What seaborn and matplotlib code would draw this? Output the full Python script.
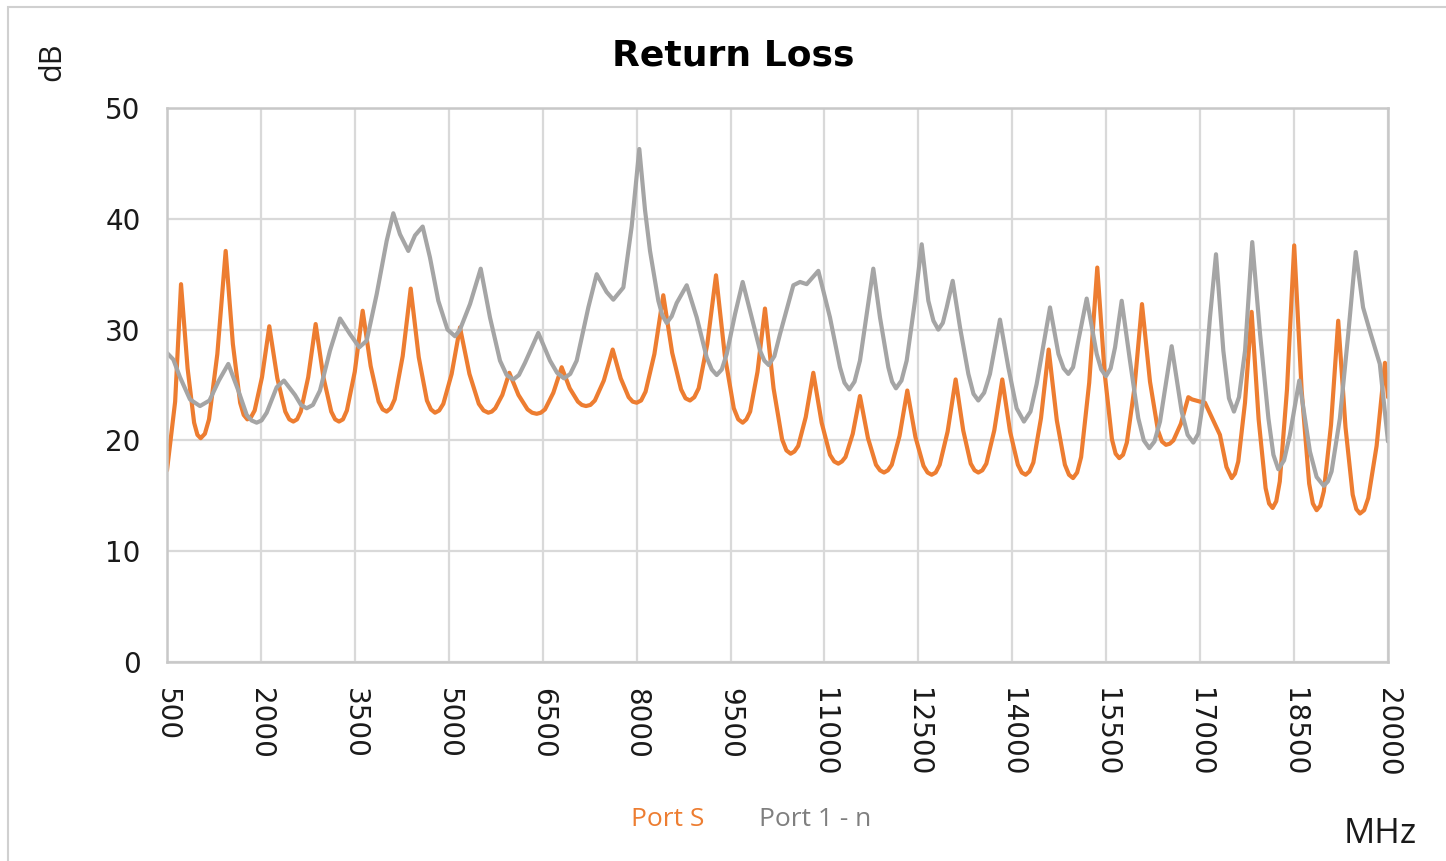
import matplotlib
matplotlib.use("Agg")
import matplotlib.pyplot as plt
import seaborn as sns
import pandas as pd
from matplotlib.patches import Rectangle

# ---------------- data ----------------
port_s_freq = [500, 630, 724, 829, 933, 986, 1038, 1105, 1171, 1304, 1437, 1552, 1668, 1725, 1783,
               1842, 1900, 2017, 2134, 2262, 2389, 2453, 2517, 2577, 2636, 2755, 2874, 2998, 3123,
               3185, 3247, 3310, 3373, 3499, 3625, 3753, 3880, 3944, 4008, 4072, 4136, 4264, 4392,
               4521, 4651, 4715, 4780, 4847, 4913, 5046, 5179, 5330, 5480, 5556, 5631, 5687, 5743,
               5855, 5967, 6113, 6258, 6331, 6404, 6470, 6537, 6670, 6803, 6932, 7062, 7126, 7191,
               7262, 7333, 7476, 7618, 7746, 7873, 7937, 8001, 8072, 8143, 8284, 8426, 8568, 8710,
               8781, 8852, 8921, 8991, 9129, 9268, 9410, 9552, 9623, 9694, 9753, 9813, 9931, 10050,
               10187, 10323, 10392, 10460, 10520, 10581, 10701, 10822, 10955, 11088, 11155, 11221,
               11279, 11336, 11452, 11567, 11695, 11823, 11887, 11951, 12013, 12075, 12199, 12323,
               12453, 12582, 12647, 12712, 12776, 12840, 12967, 13095, 13216, 13336, 13397, 13457,
               13521, 13585, 13712, 13840, 13964, 14089, 14151, 14213, 14274, 14336, 14458, 14581,
               14711, 14840, 14905, 14970, 15035, 15099, 15228, 15357, 15474, 15591, 15650, 15708,
               15768, 15829, 15950, 16071, 16199, 16326, 16390, 16454, 16514, 16573, 16692, 16811,
               16870, 16997, 17077, 17316, 17420, 17503, 17556, 17609, 17716, 17822, 17934, 18045,
               18101, 18157, 18215, 18272, 18387, 18502, 18621, 18741, 18800, 18860, 18918, 18975,
               19090, 19205, 19321, 19436, 19494, 19552, 19619, 19685, 19818, 19951, 20000]
port_s_db = [17.3, 23.5, 34.1, 26.5, 21.6, 20.5, 20.2, 20.6, 21.9, 27.8, 37.1, 28.7, 23.4, 22.3, 21.9,
             22.1, 22.7, 25.7, 30.3, 25.6, 22.6, 21.9, 21.7, 21.9, 22.6, 25.7, 30.5, 25.7, 22.6,
             21.9, 21.7, 21.9, 22.7, 26.2, 31.7, 26.7, 23.5, 22.8, 22.6, 22.9, 23.7, 27.6, 33.7,
             27.5, 23.6, 22.8, 22.5, 22.7, 23.3, 26.0, 30.2, 26.0, 23.3, 22.7, 22.5, 22.6, 22.9,
             24.1, 26.1, 24.1, 22.8, 22.5, 22.4, 22.5, 22.8, 24.3, 26.6, 24.7, 23.5, 23.2, 23.1,
             23.2, 23.6, 25.4, 28.2, 25.6, 23.9, 23.5, 23.4, 23.6, 24.4, 27.8, 33.1, 27.9, 24.6,
             23.8, 23.6, 23.9, 24.7, 28.7, 34.9, 27.6, 22.9, 21.9, 21.6, 21.9, 22.6, 26.2, 31.9,
             24.7, 20.1, 19.1, 18.8, 19.0, 19.5, 22.1, 26.1, 21.6, 18.7, 18.1, 17.9,
             18.1, 18.5, 20.6, 24.0, 20.2, 17.8, 17.3, 17.1, 17.3, 17.8, 20.4, 24.5,
             20.3, 17.7, 17.1, 16.9, 17.1, 17.8, 20.8, 25.5, 20.9, 17.9, 17.3, 17.1,
             17.3, 17.9, 20.9, 25.5, 20.8, 17.8, 17.1, 16.9, 17.2, 18.0, 22.0, 28.2,
             21.8, 17.8, 16.9, 16.6, 17.1, 18.5, 25.2, 35.6, 26.1, 20.1, 18.8, 18.4,
             18.7, 19.8, 24.7, 32.3, 25.3, 20.9, 19.9, 19.6, 19.7, 20.0, 21.5, 23.9,
             23.7, 23.5, 23.4, 20.5, 17.6, 16.6, 17.0, 18.1, 23.4, 31.6, 21.9, 15.7,
             14.3, 13.9, 14.5, 16.3, 24.6, 37.6, 24.5, 16.1, 14.3, 13.7, 14.1, 15.4,
             21.4, 30.8, 21.2, 15.1, 13.8, 13.4, 13.7, 14.8, 19.5, 27.0, 23.9]

port_1n_freq = [500, 601, 708, 867, 1027, 1178, 1328, 1479, 1639, 1773, 1850, 1932, 2010, 2092, 2252,
                2368, 2544, 2640, 2731, 2830, 2943, 3103, 3263, 3422, 3571, 3689, 3849, 4008, 4114,
                4221, 4354, 4461, 4583, 4700, 4833, 4980, 5099, 5179, 5339, 5510, 5658, 5818, 5924,
                6031, 6120, 6217, 6430, 6617, 6730, 6840, 6940, 7043, 7229, 7362, 7520, 7628, 7788,
                7921, 8043, 8134, 8214, 8347, 8410, 8480, 8560, 8640, 8800, 8960, 9119, 9200, 9279,
                9360, 9439, 9572, 9694, 9838, 9971, 10040, 10110, 10200, 10290, 10503, 10610, 10716,
                10902, 11088, 11248, 11320, 11397, 11480, 11567, 11674, 11780, 11887, 12020, 12080,
                12142, 12230, 12313, 12446, 12553, 12659, 12740, 12818, 12890, 12952, 13048, 13165,
                13298, 13380, 13457, 13550, 13643, 13803, 13936, 14069, 14186, 14290, 14389, 14602,
                14737, 14820, 14895, 14970, 15054, 15188, 15348, 15420, 15496, 15570, 15641, 15747,
                15879, 16012, 16100, 16188, 16270, 16359, 16545, 16705, 16800, 16891, 16970, 17050,
                17157, 17253, 17370, 17460, 17540, 17620, 17717, 17832, 17957, 18090, 18170, 18248,
                18340, 18433, 18583, 18753, 18860, 18974, 19040, 19099, 19232, 19365, 19485, 19602,
                19709, 19869, 20000]
port_1n_db = [27.9, 27.3, 25.7, 23.7, 23.1, 23.6, 25.4, 26.9, 24.5, 22.3, 21.8, 21.6, 21.8, 22.5, 24.8,
              25.4, 24.1, 23.2, 22.9, 23.2, 24.5, 28.1, 31.0, 29.6, 28.4, 29.0, 33.2, 38.0, 40.5,
              38.6, 37.1, 38.5, 39.3, 36.5, 32.6, 30.0, 29.4, 30.0, 32.3, 35.5, 31.1, 27.2, 25.9,
              25.5, 25.9, 27.0, 29.7, 27.2, 26.1, 25.6, 26.0, 27.2, 32.0, 35.0, 33.4, 32.7, 33.8,
              39.3, 46.3, 40.8, 37.1, 32.6, 31.3, 30.6, 31.2, 32.4, 34.0, 31.1, 27.5, 26.4, 25.9,
              26.4, 27.8, 31.4, 34.3, 31.1, 28.1, 27.2, 26.8, 27.6, 29.6, 34.0, 34.3, 34.1,
              35.3, 31.1, 26.6, 25.2, 24.6, 25.3, 27.2, 31.4, 35.5, 31.1, 26.6, 25.3,
              24.7, 25.4, 27.2, 32.6, 37.7, 32.6, 30.8, 30.0, 30.6, 32.0, 34.4, 30.2,
              26.0, 24.2, 23.6, 24.3, 26.0, 30.9, 26.6, 22.9, 21.7, 22.6, 25.1, 32.0,
              27.8, 26.5, 26.0, 26.6, 29.0, 32.8, 27.8, 26.4, 25.8, 26.5, 28.4, 32.6,
              27.2, 22.0, 20.0, 19.3, 19.9, 21.7, 28.5, 22.6, 20.5, 19.8, 20.6, 23.6,
              31.1, 36.8, 28.1, 23.8, 22.6, 23.9, 28.1, 37.9, 29.6, 22.0, 18.7, 17.4,
              18.2, 20.5, 25.4, 19.0, 16.7, 15.9, 16.3, 17.2, 22.0, 29.6, 37.0, 32.0,
              29.9, 26.9, 19.9]

series_names = ["Port S", "Port 1 - n"]
x_ticks = list(range(500, 20001, 1500))
y_ticks = [0, 10, 20, 30, 40, 50]

# ---------------- styling ----------------
ORANGE = "#ED7D31"
GRAY = "#A5A5A5"

sns.set_theme(style="whitegrid")
plt.rcParams["font.family"] = ["DejaVu Sans"]

df = pd.concat([
    pd.DataFrame({"MHz": port_s_freq, "dB": port_s_db, "series": series_names[0]}),
    pd.DataFrame({"MHz": port_1n_freq, "dB": port_1n_db, "series": series_names[1]}),
])

W, H = 1446, 861
fig = plt.figure(figsize=(W / 100, H / 100), dpi=100)
ax = fig.add_axes([167 / W, 1 - 662 / H, (1388 - 167) / W, (662 - 108) / H])

sns.lineplot(data=df, x="MHz", y="dB", hue="series", hue_order=series_names,
             palette=[ORANGE, GRAY], linewidth=3.0, ax=ax, estimator=None,
             legend=False)
for ln in ax.get_lines():
    ln.set_solid_joinstyle("round")
    ln.set_solid_capstyle("round")

ax.set_xlim(500, 20000)
ax.set_ylim(0, 50)
ax.set_xticks(x_ticks)
ax.set_yticks(y_ticks)
ax.set_xticklabels([str(t) for t in x_ticks], rotation=-90, fontsize=20, color="#1a1a1a")
ax.set_yticklabels([str(t) for t in y_ticks], fontsize=20, color="#1a1a1a")
ax.tick_params(axis="x", length=0, pad=19)
ax.tick_params(axis="y", length=0, pad=19)
for lab in ax.get_xticklabels():
    lab.set_verticalalignment("top")
ax.set_xlabel("")
ax.set_ylabel("")
ax.grid(True, color="#d9d9d9", linewidth=1.6)
for sp in ax.spines.values():
    sp.set_visible(True)
    sp.set_color("#c8c8c8")
    sp.set_linewidth(1.8)
ax.set_facecolor("white")

# title and axis captions
fig.text(733 / W, 1 - 56 / H, "Return Loss", ha="center", va="center",
         fontsize=26, fontweight="bold", family="DejaVu Sans", color="black")
fig.text(52 / W, 1 - 62 / H, "dB", rotation=90, ha="center", va="center",
         fontsize=22, family="Open Sans", color="#1a1a1a")
fig.text(1380 / W, 1 - 834 / H, "MHz", ha="center", va="center",
         fontsize=25, family="Open Sans", color="#1a1a1a")

# legend (text only, coloured)
fig.text(668 / W, 1 - 820 / H, series_names[0], ha="center", va="center",
         fontsize=19, family="Open Sans", color=ORANGE)
fig.text(815 / W, 1 - 820 / H, series_names[1], ha="center", va="center",
         fontsize=19, family="Open Sans", color="#7f7f7f")

# outer chart border
fig.patches.append(Rectangle((8 / W, -0.05), 2, 1 - 7 / H + 0.05, transform=fig.transFigure,
                             fill=False, edgecolor="#d0d0d0", linewidth=1.5))

fig.savefig("out.png", dpi=100)
